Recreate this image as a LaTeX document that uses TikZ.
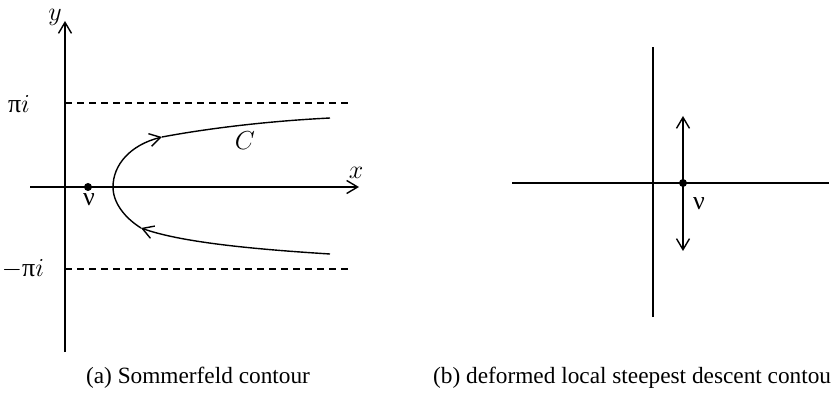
\RequirePackage{fix-cm}
\documentclass[tikz,border=0pt]{standalone}
\usepackage{fontspec}
\setmainfont{Liberation Serif}
\usetikzlibrary{arrows.meta}
\begin{document}
\begin{tikzpicture}[x=1pt,y=-1pt,
  ln/.style={line width=1.4pt},
  arr/.style={ln,-{Straight Barb[length=11pt,width=13pt,line width=1.4pt]}},
  dashline/.style={line width=1.2pt,dash pattern=on 7pt off 5pt},
  lbl/.style={font=\fontsize{26}{31}\selectfont,inner sep=0pt},
  captext/.style={font=\fontsize{23.3}{28}\selectfont,inner sep=0pt},
  dotnode/.style={circle,fill=black,inner sep=0pt,minimum size=8pt}]
\useasboundingbox (0,0) rectangle (831,393);
% ---- left panel ----
\coordinate (yb) at (65,352);
\coordinate (yt) at (65,21);
\coordinate (xl) at (30,187);
\coordinate (xr) at (359,187);
\draw[arr] (yb) -- (yt);
\draw[arr] (xl) -- (xr);
\coordinate (p1) at (65,103); \coordinate (p2) at (350,103);
\coordinate (m1) at (65,269); \coordinate (m2) at (348,269);
\draw[dashline] (p1) -- (p2);
\draw[dashline] (m1) -- (m2);
\node[lbl] (ylab) at (55,17) {$y$};
\node[lbl] (xlab) at (356,173) {$x$};
\node[lbl] (pilab) at (19,104) {π$i$};
\node[lbl] (mpilab) at (23,269) {$-$π$i$};
\node[dotnode] (nu) at (88,187) {};
\node[lbl] (nulab) at (89,200) {ν};
\node[lbl] (clab) at (245,141) {$C$};
% contour
\coordinate (cs) at (330,254);
\coordinate (ca1) at (141,228);
\coordinate (cv) at (113,187);
\coordinate (ca2) at (162,137);
\coordinate (ce) at (330,118);
\draw[arr] (cs) .. controls (250,249) and (180,242) .. (ca1);
\draw[ln] (ca1) .. controls (125,218) and (113,203) .. (cv);
\draw[arr] (cv) .. controls (113,165) and (130,145) .. (ca2);
\draw[ln] (ca2) .. controls (210,128) and (270,121) .. (ce);
\node[captext] (capa) at (198,378) {(a) Sommerfeld contour};
% ---- right panel ----
\coordinate (vb) at (653,317);
\coordinate (vt) at (653,47);
\coordinate (hl) at (512,183);
\coordinate (hr) at (829,183);
\draw[ln] (vb) -- (vt);
\draw[ln] (hl) -- (hr);
\node[dotnode] (nu2) at (683,183) {};
\coordinate (at) at (683,116);
\coordinate (ab) at (683,251);
\draw[arr] (nu2.center) -- (at);
\draw[arr] (nu2.center) -- (ab);
\node[lbl] (nu2lab) at (699,204) {ν};
\node[captext,anchor=west] (capb) at (433,378) {(b) deformed local steepest descent contour};
\end{tikzpicture}
\end{document}
